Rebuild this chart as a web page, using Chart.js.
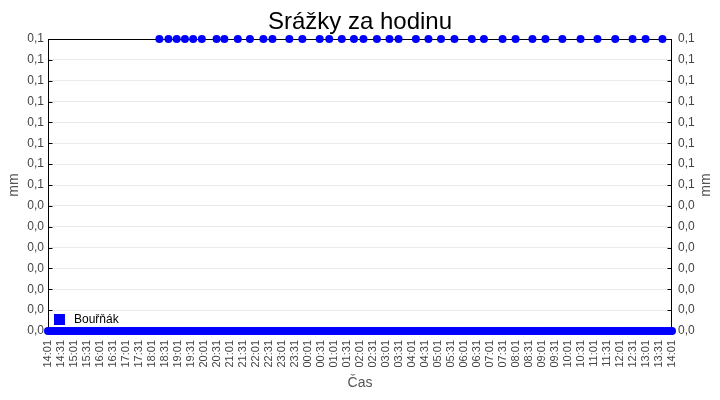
<!DOCTYPE html>
<html>
<head>
<meta charset="utf-8">
<title>Srážky za hodinu</title>
<script src="https://cdn.jsdelivr.net/npm/chart.js@4.4.1/dist/chart.umd.min.js"></script>
<style>
  html, body { margin: 0; padding: 0; background: #fff; }
  canvas { display: block; }
</style>
</head>
<body>
<canvas id="rain-chart" width="720" height="400"></canvas>
<script>
// readings with 0,1 mm
var rainTimes = [
  "18:18","18:39","18:58","19:17","19:36","19:56","20:30","20:48","21:19","21:47",
  "22:18","22:39","23:18","23:48","00:28","00:50","01:19","01:47","02:09","02:40",
  "03:09","03:30","04:10","04:39","05:08","05:39","06:19","06:47","07:30","08:00",
  "08:39","09:09","09:48","10:30","11:09","11:50","12:30","13:00","13:39"
];
var rainValues = [
  0.1,0.1,0.1,0.1,0.1,0.1,0.1,0.1,0.1,0.1,
  0.1,0.1,0.1,0.1,0.1,0.1,0.1,0.1,0.1,0.1,
  0.1,0.1,0.1,0.1,0.1,0.1,0.1,0.1,0.1,0.1,
  0.1,0.1,0.1,0.1,0.1,0.1,0.1,0.1,0.1
];
// readings with 0,0 mm
var zeroTimes = [
  "14:01","14:06","14:11","14:16","14:21","14:26","14:31","14:36","14:41","14:46","14:51","14:56",
  "15:01","15:06","15:11","15:16","15:21","15:26","15:31","15:36","15:41","15:46","15:51","15:56",
  "16:01","16:06","16:11","16:16","16:21","16:26","16:31","16:36","16:41","16:46","16:51","16:56",
  "17:01","17:06","17:11","17:16","17:21","17:26","17:31","17:36","17:41","17:46","17:51","17:56",
  "18:01","18:06","18:11","18:16","18:21","18:26","18:31","18:36","18:41","18:46","18:51","18:56",
  "19:01","19:06","19:11","19:16","19:21","19:26","19:31","19:36","19:41","19:46","19:51","19:56",
  "20:01","20:06","20:11","20:16","20:21","20:26","20:31","20:36","20:41","20:46","20:51","20:56",
  "21:01","21:06","21:11","21:16","21:21","21:26","21:31","21:36","21:41","21:46","21:51","21:56",
  "22:01","22:06","22:11","22:16","22:21","22:26","22:31","22:36","22:41","22:46","22:51","22:56",
  "23:01","23:06","23:11","23:16","23:21","23:26","23:31","23:36","23:41","23:46","23:51","23:56",
  "00:01","00:06","00:11","00:16","00:21","00:26","00:31","00:36","00:41","00:46","00:51","00:56",
  "01:01","01:06","01:11","01:16","01:21","01:26","01:31","01:36","01:41","01:46","01:51","01:56",
  "02:01","02:06","02:11","02:16","02:21","02:26","02:31","02:36","02:41","02:46","02:51","02:56",
  "03:01","03:06","03:11","03:16","03:21","03:26","03:31","03:36","03:41","03:46","03:51","03:56",
  "04:01","04:06","04:11","04:16","04:21","04:26","04:31","04:36","04:41","04:46","04:51","04:56",
  "05:01","05:06","05:11","05:16","05:21","05:26","05:31","05:36","05:41","05:46","05:51","05:56",
  "06:01","06:06","06:11","06:16","06:21","06:26","06:31","06:36","06:41","06:46","06:51","06:56",
  "07:01","07:06","07:11","07:16","07:21","07:26","07:31","07:36","07:41","07:46","07:51","07:56",
  "08:01","08:06","08:11","08:16","08:21","08:26","08:31","08:36","08:41","08:46","08:51","08:56",
  "09:01","09:06","09:11","09:16","09:21","09:26","09:31","09:36","09:41","09:46","09:51","09:56",
  "10:01","10:06","10:11","10:16","10:21","10:26","10:31","10:36","10:41","10:46","10:51","10:56",
  "11:01","11:06","11:11","11:16","11:21","11:26","11:31","11:36","11:41","11:46","11:51","11:56",
  "12:01","12:06","12:11","12:16","12:21","12:26","12:31","12:36","12:41","12:46","12:51","12:56",
  "13:01","13:06","13:11","13:16","13:21","13:26","13:31","13:36","13:41","13:46","13:51","13:56",
  "14:01"
];
var xTickLabels = [
  "14:01","14:31","15:01","15:31","16:01","16:31","17:01","17:31","18:01","18:31",
  "19:01","19:31","20:01","20:31","21:01","21:31","22:01","22:31","23:01","23:31",
  "00:01","00:31","01:01","01:31","02:01","02:31","03:01","03:31","04:01","04:31",
  "05:01","05:31","06:01","06:31","07:01","07:31","08:01","08:31","09:01","09:31",
  "10:01","10:31","11:01","11:31","12:01","12:31","13:01","13:31","14:01"
];
var yTickLabels = [
  "0,0","0,0","0,0","0,0","0,0","0,0","0,0","0,1",
  "0,1","0,1","0,1","0,1","0,1","0,1","0,1"
];
var yMax = 0.1;
var seriesName = "Bouřňák";

var START = 14 * 60 + 1;
function toOffsets(list) {
  var prev = -1;
  return list.map(function (t) {
    var p = t.split(":");
    var o = ((+p[0] * 60 + +p[1] - START) % 1440 + 1440) % 1440;
    if (o < prev) o += 1440;
    prev = o;
    return o;
  });
}

var points = [];
toOffsets(zeroTimes).forEach(function (x) { points.push({ x: x, y: 0 }); });
toOffsets(rainTimes).forEach(function (x, i) { points.push({ x: x, y: rainValues[i] }); });

var font = "'Liberation Sans', Arial, sans-serif";

function yTicks(axis) {
  axis.ticks = yTickLabels.map(function (l, i) {
    return { value: i * yMax / (yTickLabels.length - 1) };
  });
}

// plot frame and inward tick marks, legend inside the plot, right axis title
var frame = {
  id: 'frame',
  beforeDatasetsDraw: function (chart) {
    var a = chart.chartArea, c = chart.ctx;
    var L = Math.round(a.left) + 0.5, R = Math.round(a.right) - 0.5;
    var T = Math.round(a.top) + 0.5, B = Math.round(a.bottom) + 0.5;
    c.save();
    c.strokeStyle = '#000';
    c.lineWidth = 1;
    c.strokeRect(L, T, R - L, B - T);
    c.beginPath();
    chart.scales.y.ticks.forEach(function (t) {
      var py = Math.round(chart.scales.y.getPixelForValue(t.value)) + 0.5;
      c.moveTo(L, py); c.lineTo(L + 4, py);
      c.moveTo(R, py); c.lineTo(R - 4, py);
    });
    chart.scales.x.ticks.forEach(function (t) {
      var px = Math.round(chart.scales.x.getPixelForValue(t.value)) + 0.5;
      c.moveTo(px, B); c.lineTo(px, B - 4);
    });
    c.stroke();
    c.restore();
  },
  afterDraw: function (chart) {
    var a = chart.chartArea, c = chart.ctx;
    c.save();
    c.fillStyle = '#0000ff';
    c.fillRect(a.left + 6, a.bottom - 17, 11, 11);
    c.fillStyle = '#000';
    c.font = '12px ' + font;
    c.textBaseline = 'middle';
    c.textAlign = 'left';
    c.fillText(seriesName, a.left + 26, a.bottom - 11);
    c.fillStyle = '#555';
    c.font = '14px ' + font;
    c.textAlign = 'center';
    c.translate(706, (a.top + a.bottom) / 2);
    c.rotate(-Math.PI / 2);
    c.fillText('mm', 0, 0);
    c.restore();
  }
};

new Chart(document.getElementById('rain-chart'), {
  type: 'scatter',
  data: {
    datasets: [{
      label: seriesName,
      data: points,
      showLine: false,
      backgroundColor: '#0000ff',
      borderColor: '#0000ff',
      pointRadius: 4,
      pointBorderWidth: 0,
      pointHoverRadius: 4,
      clip: false
    }]
  },
  options: {
    responsive: false,
    animation: false,
    devicePixelRatio: 1,
    layout: { padding: 0 },
    plugins: {
      legend: { display: false },
      tooltip: { enabled: false },
      title: {
        display: true,
        text: 'Srážky za hodinu',
        color: '#000',
        font: { family: font, size: 24, weight: 'normal' },
        padding: { top: 8, bottom: 2.2 }
      }
    },
    scales: {
      x: {
        type: 'linear',
        min: 0,
        max: 1440,
        afterBuildTicks: function (axis) {
          axis.ticks = xTickLabels.map(function (l, i) { return { value: i * 30 }; });
        },
        afterFit: function (scale) { scale.height = 69; },
        ticks: {
          autoSkip: false,
          minRotation: 90,
          maxRotation: 90,
          padding: 9,
          color: '#444',
          font: { family: font, size: 11 },
          callback: function (v, i) { return xTickLabels[i]; }
        },
        grid: { display: true, drawOnChartArea: false, drawTicks: false },
        border: { display: false },
        title: {
          display: true,
          text: 'Čas',
          color: '#555',
          font: { family: font, size: 14 },
          padding: { top: 4, bottom: 8 }
        }
      },
      y: {
        position: 'left',
        min: 0,
        max: yMax,
        afterBuildTicks: yTicks,
        afterFit: function (scale) { scale.width = 48; },
        ticks: {
          padding: 4,
          color: '#444',
          font: { family: font, size: 12 },
          callback: function (v, i) { return yTickLabels[i]; }
        },
        grid: { color: '#ebebeb', drawTicks: false },
        border: { display: false },
        title: {
          display: true,
          text: 'mm',
          color: '#555',
          font: { family: font, size: 14 },
          padding: { top: 6, bottom: 0 }
        }
      },
      y2: {
        position: 'right',
        min: 0,
        max: yMax,
        afterBuildTicks: yTicks,
        afterFit: function (scale) { scale.width = 48; },
        ticks: {
          padding: 6,
          color: '#444',
          font: { family: font, size: 12 },
          callback: function (v, i) { return yTickLabels[i]; }
        },
        grid: { drawOnChartArea: false, drawTicks: false },
        border: { display: false }
      }
    }
  },
  plugins: [frame]
});
</script>
</body>
</html>
